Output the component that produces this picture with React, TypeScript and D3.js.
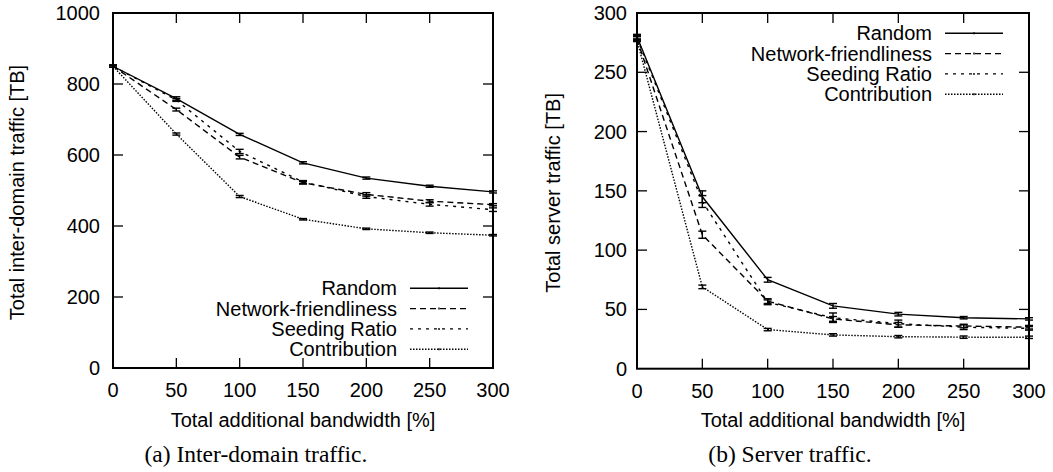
import React from "react";
import * as d3 from "d3";

const bandwidth = [0, 50, 100, 150, 200, 250, 300];
const seriesNames = ["Random", "Network-friendliness", "Seeding Ratio", "Contribution"];

// Panel (a): inter-domain traffic [TB]
const interRandom = [850, 759, 658, 578, 535, 512, 496];
const interNetwork = [850, 728, 594, 522, 489, 470, 460];
const interSeeding = [850, 755, 610, 524, 483, 461, 446];
const interContribution = [850, 659, 483, 419, 392, 381, 374];
const interRandomErr = [3, 5, 3, 3, 3, 3, 3];
const interNetworkErr = [3, 4, 5, 4, 5, 4, 3];
const interSeedingErr = [3, 4, 6, 4, 5, 5, 5];
const interContributionErr = [3, 3, 3, 2, 2, 2, 2];
const interYTicks = [0, 200, 400, 600, 800, 1000];

// Panel (b): server traffic [TB]
const serverRandom = [280, 145, 75, 53, 46, 43, 42];
const serverNetwork = [278, 113, 57, 42, 37, 36, 35];
const serverSeeding = [279, 141, 56, 43, 38, 35, 34];
const serverContribution = [277, 69, 33, 28.5, 27, 26.6, 26.5];
const serverRandomErr = [2, 5, 2, 2, 1.5, 1, 1];
const serverNetworkErr = [2, 3, 2, 2, 2, 1.5, 1.5];
const serverSeedingErr = [2, 5, 2, 4, 3, 2, 1.5];
const serverContributionErr = [1, 1.5, 1, 1, 1, 1, 1];
const serverYTicks = [0, 50, 100, 150, 200, 250, 300];

const xTicks = [0, 50, 100, 150, 200, 250, 300];

const dashes = ["none", "6,4", "3,5", "1.5,1.5"];

const FONT = "'Liberation Sans', Arial, Helvetica, sans-serif";
const SERIF = "'Liberation Serif', 'Times New Roman', serif";

type PanelProps = {
  left: number;
  right: number;
  top: number;
  bottom: number;
  yMax: number;
  yTicks: number[];
  series: number[][];
  errs: number[][];
  yTitle: string;
  yTitleX: number;
  tickGap: number;
  legendTextX: number;
  legendY0: number;
  caption: string;
  captionX: number;
};

function Panel(p: PanelProps) {
  const x = d3.scaleLinear().domain([0, 300]).range([p.left, p.right]);
  const y = d3.scaleLinear().domain([0, p.yMax]).range([p.bottom, p.top]);
  const line = d3
    .line<number>()
    .x((_, i) => x(bandwidth[i]))
    .y((d) => y(d));
  const tickLen = 10;
  const cap = 4;
  const rowH = 20.3;
  const lx0 = p.legendTextX + 13;
  const lx1 = lx0 + 58;
  return (
    <g>
      {p.series.map((s, k) => (
        <path
          key={"l" + k}
          d={line(s) || ""}
          fill="none"
          stroke="#000"
          strokeWidth={1.4}
          strokeDasharray={dashes[k]}
        />
      ))}
      {p.series.map((s, k) =>
        s.map((v, i) => {
          const cx = x(bandwidth[i]);
          const y1 = y(v - p.errs[k][i]);
          const y2 = y(v + p.errs[k][i]);
          return (
            <g key={"e" + k + "-" + i} stroke="#000" strokeWidth={1.4}>
              <line x1={cx} x2={cx} y1={y1} y2={y2} />
              <line x1={cx - cap} x2={cx + cap} y1={y1} y2={y1} />
              <line x1={cx - cap} x2={cx + cap} y1={y2} y2={y2} />
            </g>
          );
        })
      )}
      {xTicks.map((t) => (
        <g key={"xt" + t} stroke="#000" strokeWidth={1.3}>
          {t > 0 && t < 300 && (
            <>
              <line x1={x(t)} x2={x(t)} y1={p.bottom} y2={p.bottom - tickLen} />
              <line x1={x(t)} x2={x(t)} y1={p.top} y2={p.top + tickLen} />
            </>
          )}
        </g>
      ))}
      {p.yTicks.map((t) => (
        <g key={"yt" + t} stroke="#000" strokeWidth={1.3}>
          {t > 0 && t < p.yMax && (
            <>
              <line x1={p.left} x2={p.left + tickLen} y1={y(t)} y2={y(t)} />
              <line x1={p.right} x2={p.right - tickLen} y1={y(t)} y2={y(t)} />
            </>
          )}
        </g>
      ))}
      <rect
        x={p.left}
        y={p.top}
        width={p.right - p.left}
        height={p.bottom - p.top}
        fill="none"
        stroke="#000"
        strokeWidth={2}
      />
      {xTicks.map((t) => (
        <text
          key={"xl" + t}
          x={x(t)}
          y={p.bottom + 29}
          textAnchor="middle"
          fontFamily={FONT}
          fontSize={20}
        >
          {t}
        </text>
      ))}
      {p.yTicks.map((t) => (
        <text
          key={"yl" + t}
          x={p.left - p.tickGap}
          y={y(t) + 7}
          textAnchor="end"
          fontFamily={FONT}
          fontSize={20}
        >
          {t}
        </text>
      ))}
      <text
        x={(p.left + p.right) / 2}
        y={427}
        textAnchor="middle"
        fontFamily={FONT}
        fontSize={20}
      >
        Total additional bandwidth [%]
      </text>
      <text
        transform={`translate(${p.yTitleX},${(p.top + p.bottom) / 2 + 2}) rotate(-90)`}
        textAnchor="middle"
        dy="0.35em"
        fontFamily={FONT}
        fontSize={20}
      >
        {p.yTitle}
      </text>
      {seriesNames.map((n, k) => {
        const ly = p.legendY0 + k * rowH;
        return (
          <g key={"lg" + k}>
            <text
              x={p.legendTextX}
              y={ly + 7}
              textAnchor="end"
              fontFamily={FONT}
              fontSize={20}
            >
              {n}
            </text>
            <line
              x1={lx0}
              x2={lx1}
              y1={ly}
              y2={ly}
              stroke="#000"
              strokeWidth={1.4}
              strokeDasharray={dashes[k]}
            />
            <line
              x1={(lx0 + lx1) / 2}
              x2={(lx0 + lx1) / 2}
              y1={ly - 1}
              y2={ly + 1}
              stroke="#000"
              strokeWidth={1.4}
            />
          </g>
        );
      })}
      <text
        x={p.captionX}
        y={462}
        textAnchor="middle"
        fontFamily={SERIF}
        fontSize={23.5}
      >
        {p.caption}
      </text>
    </g>
  );
}

export default function App() {
  return (
    <svg
      width={1053}
      height={472}
      style={{ position: "absolute", left: 0, top: 0, background: "#fff" }}
    >
      <rect width={1053} height={472} fill="#fff" />
      <Panel
        left={113}
        right={493}
        top={13}
        bottom={368}
        yMax={1000}
        yTicks={interYTicks}
        series={[interRandom, interNetwork, interSeeding, interContribution]}
        errs={[interRandomErr, interNetworkErr, interSeedingErr, interContributionErr]}
        yTitle="Total inter-domain traffic [TB]"
        yTitleX={17}
        tickGap={13}
        legendTextX={397}
        legendY0={288.3}
        caption="(a) Inter-domain traffic."
        captionX={256}
      />
      <Panel
        left={637}
        right={1029}
        top={13}
        bottom={368.7}
        yMax={300}
        yTicks={serverYTicks}
        series={[serverRandom, serverNetwork, serverSeeding, serverContribution]}
        errs={[serverRandomErr, serverNetworkErr, serverSeedingErr, serverContributionErr]}
        yTitle="Total server traffic [TB]"
        yTitleX={553}
        tickGap={10}
        legendTextX={932}
        legendY0={33.3}
        caption="(b) Server traffic."
        captionX={790}
      />
    </svg>
  );
}
